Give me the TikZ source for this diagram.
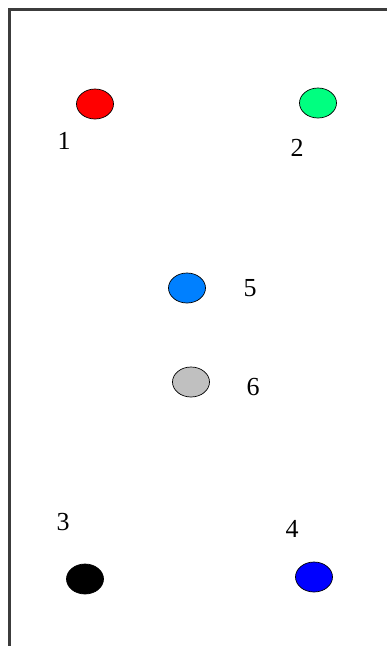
\documentclass[tikz,border=0pt]{standalone}
\usepackage{fontspec}
\setmainfont{Liberation Serif}
\usetikzlibrary{shapes.geometric}
\definecolor{spring}{HTML}{00FF80}
\definecolor{sky}{HTML}{0080FF}
\definecolor{silv}{HTML}{C0C0C0}
\definecolor{frame}{HTML}{3C3C3C}
\tikzset{
  dot/.style={ellipse, draw=black, line width=0.7pt, minimum width=37pt, minimum height=30pt, inner sep=0pt},
  lab/.style={inner sep=0pt, font=\fontsize{26}{26}\selectfont}
}
\begin{document}
\begin{tikzpicture}[x=1pt,y=-1pt]
\useasboundingbox (0,0) rectangle (387,646);
\fill[white] (0,0) rectangle (387,646);
\coordinate (fb) at (9.5,646);
\coordinate (fc) at (9.5,9.5);
\coordinate (fr) at (387,9.5);
\draw[frame, line width=2.3pt] (fb) -- (fc) -- (fr);
\node[dot, fill=red] (d1) at (95,104) {};
\node[dot, fill=spring] (d2) at (318,103) {};
\node[dot, fill=sky] (d5) at (187,288) {};
\node[dot, fill=silv] (d6) at (191,382) {};
\node[dot, fill=black] (d3) at (85,579) {};
\node[dot, fill=blue] (d4) at (314,577) {};
\node[lab] (l1) at (64,141) {1};
\node[lab] (l2) at (297,148) {2};
\node[lab] (l5) at (250,288) {5};
\node[lab] (l6) at (253,387) {6};
\node[lab] (l3) at (63,522) {3};
\node[lab] (l4) at (292,529) {4};
\end{tikzpicture}
\end{document}
